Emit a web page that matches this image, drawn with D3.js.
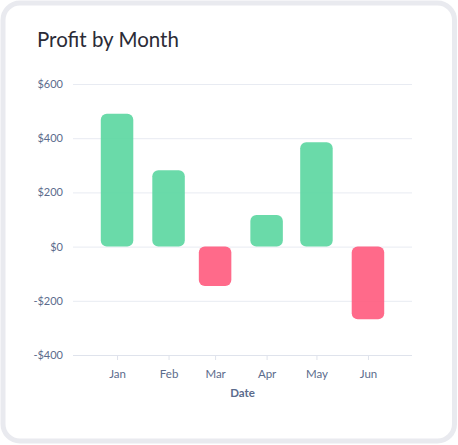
<!DOCTYPE html>
<html>
<head>
<meta charset="utf-8">
<script src="https://cdn.jsdelivr.net/npm/d3@7"></script>
<style>
  body { margin: 0; background: #fff; }
  svg { display: block; }
</style>
</head>
<body>
<div id="chart"></div>
<script>
const months = ["2023-01-01", "2023-02-01", "2023-03-01", "2023-04-01", "2023-05-01", "2023-06-01"];
const profit = [490, 282, -145, 117, 385, -268];
const yTicks = [-400, -200, 0, 200, 400, 600];

const w = 458,
      h = 445;

const svg = d3.select("#chart")
    .append("svg")
    .attr("width", w)
    .attr("height", h);

// card
svg.append("rect")
    .attr("x", 3).attr("y", 3)
    .attr("width", w - 6.5).attr("height", h - 7)
    .attr("rx", 17)
    .style("fill", "#fff")
    .style("stroke", "#e9eaef")
    .style("stroke-width", 5);

svg.append("text")
    .attr("x", 37)
    .attr("y", 47)
    .text("Profit by Month")
    .attr("font-family", "Lato, sans-serif")
    .attr("font-size", "20.5px")
    .attr("fill", "#2b2b36");

const parse = d3.timeParse("%Y-%m-%d");
const data = months.map((m, i) => ({date: parse(m), value: profit[i]}));

const pLeft = 73, pRight = 412, pTop = 84, pBottom = 355;

const x = d3.scaleTime()
    .domain([d3.timeHour.offset(data[0].date, -26.5 * 24), d3.timeHour.offset(data[5].date, 26.5 * 24)])
    .range([pLeft, pRight]);

const y = d3.scaleLinear()
    .domain([-400, 600])
    .range([pBottom, pTop]);

// grid + y labels
const yAxis = svg.append("g")
    .attr("transform", "translate(" + pLeft + ",0)")
    .call(d3.axisLeft(y).tickValues(yTicks)
        .tickSize(-(pRight - pLeft))
        .tickPadding(10)
        .tickFormat(d => (d < 0 ? "-$" : "$") + Math.abs(d)));
yAxis.select(".domain").remove();
yAxis.selectAll("line").style("stroke", "#e8ebf2");
yAxis.selectAll("text")
    .attr("font-family", "Lato, sans-serif")
    .attr("font-size", "11px")
    .attr("fill", "#5b6b8c");

const barW = 32.5;

svg.selectAll("rect.bar")
    .data(data)
    .enter()
    .append("rect")
    .attr("class", "bar")
    .attr("x", d => x(d.date) - barW / 2)
    .attr("y", d => y(Math.max(0, d.value)))
    .attr("width", barW)
    .attr("height", d => Math.abs(y(d.value) - y(0)))
    .attr("rx", 6)
    .style("fill", d => d.value >= 0 ? "#5ad6a0" : "#ff5a7d")
    .style("opacity", 0.9);

const xAxis = svg.append("g")
    .attr("transform", "translate(0," + pBottom + ")")
    .call(d3.axisBottom(x).tickValues(data.map(d => d.date))
        .tickSize(5)
        .tickPadding(10)
        .tickFormat(d3.timeFormat("%b")));
xAxis.select(".domain")
    .attr("d", "M" + pLeft + ",0.5H" + pRight)
    .style("stroke", "#dfe3ec");
xAxis.selectAll("line").style("stroke", "#dfe3ec");
xAxis.selectAll("text")
    .attr("font-family", "Lato, sans-serif")
    .attr("font-size", "11.5px")
    .attr("fill", "#5b6b8c");

svg.append("text")
    .attr("x", (pLeft + pRight) / 2)
    .attr("y", 397)
    .attr("text-anchor", "middle")
    .text("Date")
    .attr("font-family", "Lato, sans-serif")
    .attr("font-weight", "bold")
    .attr("font-size", "11.5px")
    .attr("fill", "#5b6b8c");
</script>
</body>
</html>
